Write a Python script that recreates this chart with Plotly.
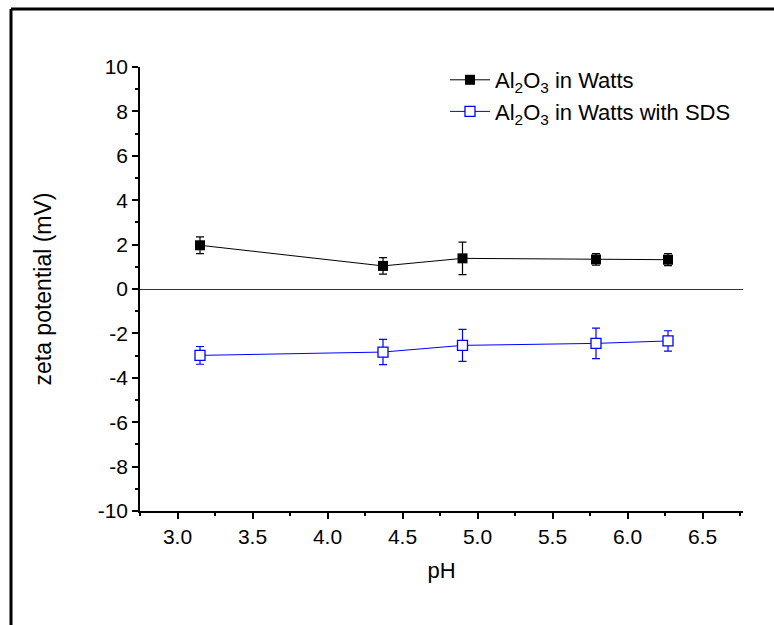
import plotly.graph_objects as go

ph_watts = [3.15, 4.37, 4.90, 5.79, 6.27]
zeta_watts = [1.97, 1.04, 1.38, 1.33, 1.32]
err_watts = [0.38, 0.37, 0.73, 0.26, 0.27]

ph_sds = [3.15, 4.37, 4.90, 5.79, 6.27]
zeta_sds = [-2.99, -2.84, -2.54, -2.45, -2.34]
err_sds = [0.40, 0.57, 0.72, 0.69, 0.46]

x_ticks = [3.0, 3.5, 4.0, 4.5, 5.0, 5.5, 6.0, 6.5]
y_ticks = [10, 8, 6, 4, 2, 0, -2, -4, -6, -8, -10]

FONT = "Liberation Sans, Arial, sans-serif"
W, H = 774, 625
L, R, T, B = 140, 31, 67, 114

fig = go.Figure()
fig.add_trace(go.Scatter(
    x=ph_watts, y=zeta_watts, mode="lines+markers",
    name="Al<sub>2</sub>O<sub>3</sub> in Watts",
    line=dict(color="black", width=1),
    marker=dict(symbol="square", size=10, color="black"),
    error_y=dict(type="data", array=err_watts, color="black", thickness=1.2, width=4),
))
fig.add_trace(go.Scatter(
    x=ph_sds, y=zeta_sds, mode="lines+markers",
    name="Al<sub>2</sub>O<sub>3</sub> in Watts with SDS",
    line=dict(color="#0000ff", width=1),
    marker=dict(symbol="square", size=10, color="white", line=dict(color="#0000ff", width=1.3)),
    error_y=dict(type="data", array=err_sds, color="#0000ff", thickness=1.2, width=4),
))

pw = W - L - R
ph = H - T - B
def px_to_paper_x(px):
    return (px - L) / pw
def px_to_paper_y(py):
    return (H - B - py) / ph

# outer frame (top and left edges)
fig.add_shape(type="line", xref="paper", yref="paper",
              x0=px_to_paper_x(11), x1=px_to_paper_x(W + 2),
              y0=px_to_paper_y(9), y1=px_to_paper_y(9),
              line=dict(color="black", width=3))
fig.add_shape(type="line", xref="paper", yref="paper",
              x0=px_to_paper_x(11), x1=px_to_paper_x(11),
              y0=px_to_paper_y(9), y1=px_to_paper_y(H + 2),
              line=dict(color="black", width=3))

fig.update_layout(
    width=W, height=H,
    margin=dict(l=L, r=R, t=T, b=B),
    paper_bgcolor="white", plot_bgcolor="white",
    font=dict(family=FONT, color="black", size=21),
    showlegend=True,
    legend=dict(x=px_to_paper_x(445), y=px_to_paper_y(59), xanchor="left", yanchor="top",
                bgcolor="rgba(0,0,0,0)", font=dict(size=22, family=FONT, color="black"),
                tracegroupgap=0, itemwidth=40),
    xaxis=dict(
        range=[2.75, 6.77], tickvals=x_ticks, ticktext=[f"{v:.1f}" for v in x_ticks],
        showgrid=False, zeroline=False, showline=True, linecolor="black", linewidth=1.5,
        ticks="outside", ticklen=6, tickwidth=1.5, tickcolor="black",
        minor=dict(ticks="outside", dtick=0.25, tick0=2.75, ticklen=3, tickwidth=1.5, tickcolor="black"),
        title=dict(text="pH", font=dict(size=22, family=FONT, color="black"), standoff=16),
        tickfont=dict(size=21, family=FONT, color="black"),
    ),
    yaxis=dict(
        range=[-10, 10], tickvals=y_ticks, ticktext=[str(v) for v in y_ticks],
        showgrid=False, zeroline=True, zerolinecolor="#333333", zerolinewidth=1.2,
        showline=True, linecolor="black", linewidth=1.5,
        ticks="outside", ticklen=6, tickwidth=1.5, tickcolor="black",
        minor=dict(ticks="outside", dtick=1, ticklen=3, tickwidth=1.5, tickcolor="black"),
        title=dict(text="zeta potential (mV)", font=dict(size=23, family=FONT, color="black"), standoff=40),
        tickfont=dict(size=21, family=FONT, color="black"),
    ),
)

fig.write_html("out.html")
